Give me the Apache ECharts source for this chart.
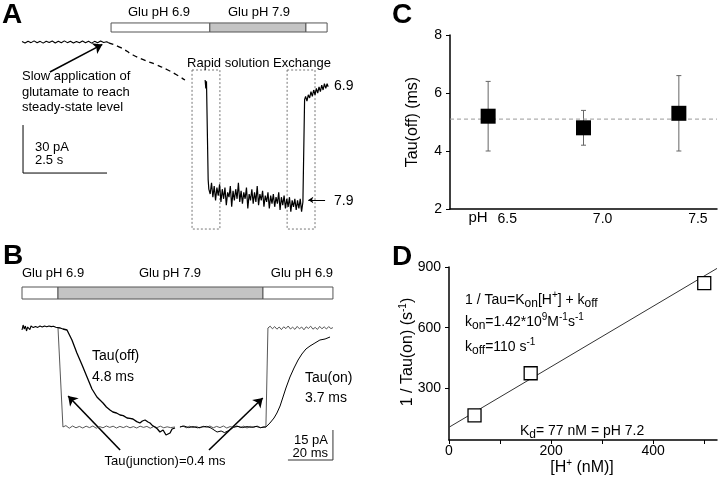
<!DOCTYPE html>
<html><head><meta charset="utf-8">
<script src="https://cdn.jsdelivr.net/npm/echarts@6/dist/echarts.min.js"></script>
<style>html,body{margin:0;padding:0;background:#fff}#c{width:720px;height:485px}</style>
</head><body><div id="c"></div>
<script>
// ================= Panel A (x: s, y: pA) =================
const stimA = [[2.71, 5.65, 6.9], [5.65, 8.51, 7.9], [8.51, 9.14, 6.9]];
const exchangeWindowsA = [[5.12, 5.95], [7.95, 8.78]];
const traceA_slow = [[0.06,0.3],[0.15,-0.6],[0.24,0.5],[0.33,-0.4],[0.42,0.7],[0.51,-0.5],[0.6,0.4],[0.69,-0.7],[0.78,0.5],[0.87,-0.3],[0.96,0.6],[1.05,-0.6],[1.14,0.4],[1.23,-0.5],[1.32,0.7],[1.41,-0.4],[1.5,0.5],[1.59,-0.6],[1.68,0.3],[1.77,-0.5],[1.86,0.6],[1.95,-0.4],[2.04,0.5],[2.13,-0.7],[2.22,0.4],[2.31,-0.5],[2.4,0.6],[2.49,-0.3],[2.58,0.2],[2.64,-0.5]];
const traceA_slowRise = [[2.64,-0.5],[3.0,-3.5],[3.36,-8.1],[3.72,-11.5],[4.08,-14.4],[4.4,-17.5],[4.67,-20.6],[4.91,-23.75]];
const traceA_rapid = [[5.51,-23.75],[5.53,-29],[5.55,-24.5],[5.58,-24],[5.6,-86],[5.62,-92],[5.66,-95],[5.70,-88],[5.74,-97],[5.78,-90],[5.82,-99],[5.86,-91],[5.90,-96],[5.94,-89],[5.98,-100],[6.02,-92],[6.06,-98],[6.10,-91],[6.14,-102],[6.18,-94],[6.22,-97],[6.26,-90],[6.30,-103],[6.34,-93],[6.38,-99],[6.42,-92],[6.46,-98],[6.50,-88],[6.54,-100],[6.58,-93],[6.62,-101],[6.66,-94],[6.70,-98],[6.74,-91],[6.78,-104],[6.82,-95],[6.86,-99],[6.90,-92],[6.94,-101],[6.98,-94],[7.02,-100],[7.06,-90],[7.10,-102],[7.14,-95],[7.18,-99],[7.22,-93],[7.26,-103],[7.30,-96],[7.34,-100],[7.38,-94],[7.42,-104],[7.46,-96],[7.50,-101],[7.54,-95],[7.58,-103],[7.62,-97],[7.66,-101],[7.70,-94],[7.74,-105],[7.78,-97],[7.82,-102],[7.86,-96],[7.90,-104],[7.94,-98],[7.98,-103],[8.02,-97],[8.06,-106],[8.10,-99],[8.14,-103],[8.18,-98],[8.22,-105],[8.26,-99],[8.30,-104],[8.34,-98],[8.38,-106],[8.42,-100],[8.45,-101],[8.47,-36],[8.50,-34],[8.54,-37],[8.58,-33],[8.62,-35],[8.66,-31],[8.70,-34],[8.74,-30],[8.78,-33],[8.82,-29],[8.86,-32],[8.90,-28],[8.94,-31],[8.98,-27],[9.02,-30],[9.06,-26],[9.10,-29],[9.14,-26],[9.17,-28]];
const scaleBarA = [[0.09,-51.9],[0.09,-81.9],[2.59,-81.9]];
const arrowA = [[0.89,-18.75],[2.45,-1.5]];
const arrowA79 = [[9.08,-98.75],[8.58,-98.75]];

// ================= Panel B (x: ms, y: pA) =================
const stimB = [[0, 16, 6.9], [16, 107.1, 7.9], [107.1, 138.2, 6.9]];
const traceB_base = [[0,-1],[0.5,1.5],[1,-0.5],[1.5,1],[2,-1.5],[2.5,0.5],[3,1.2],[3.5,-0.8],[4,1],[5,0.2],[6,0.8],[7,0.3],[8,1],[9,0.5],[10,1],[11,0.6],[12,1],[13,0.7],[14,0.9],[15,0.4],[16,0.2]];
const traceB_junctionL = [[16,0],[18.2,-49.5],[19.5,-48.8],[21,-50.1],[22.5,-49],[24,-49.9],[25.5,-49.2],[27,-50],[28.5,-49.1],[30,-49.8],[31.5,-49],[33,-50.1],[34.5,-49.3],[36,-49.9],[37.5,-49],[39,-49.7],[40.5,-49.1],[42,-50],[43.5,-49.2],[45,-49.8],[46.5,-49.1],[48,-49.9],[49.5,-49.3],[51,-50],[52.5,-49.1],[54,-49.7],[55.5,-49.2],[57,-50.1],[58.5,-49.3],[60,-49.8],[61.5,-49.1],[63,-49.9],[64.5,-49.4],[66,-49.8],[68,-49.5]];
const traceB_junctionR = [[70.2,-49.5],[71.5,-49],[73,-49.9],[74.5,-49.1],[76,-49.8],[77.5,-49.2],[79,-50],[80.5,-49.1],[82,-49.7],[83.5,-49],[85,-49.9],[86.5,-49.2],[88,-49.8],[89.5,-49],[91,-50],[92.5,-49.3],[94,-49.7],[95.5,-48.9],[97,-49.8],[98.5,-49.1],[100,-50],[101.5,-49.2],[103,-49.7],[104.5,-49],[106,-49.9],[107.5,-49.3],[108.4,-49.5],[109.3,0],[110.3,0.9],[111.3,-0.4],[112.3,0.7],[113.3,-0.6],[114.3,0.5],[115.3,-0.8],[116.3,0.6],[117.3,-0.3],[118.3,1],[119.3,-0.5],[120.3,0.4],[121.3,-0.7],[122.3,0.8],[123.3,-0.4],[124.3,0.5],[125.3,-0.9],[126.3,0.6],[127.3,-0.2],[128.3,0.9],[129.3,-0.6],[130.3,0.3],[131.3,-0.7],[132.3,0.8],[133.3,-0.4],[134.3,0.6],[135.3,-0.5],[136.3,0.7],[137.3,-0.3],[138.2,0.2]];
const traceB_off = [[16,0.2],[17,0],[18.2,-0.5],[20,-1],[22.2,-6],[24.4,-12.5],[26.7,-18.5],[28.9,-24.5],[31.1,-30.5],[33.3,-34.5],[36,-37.5],[37.5,-39.5],[39.1,-41],[40.4,-42],[42,-42.5],[43.6,-43.5],[45,-43.8],[46.7,-45],[48,-45.2],[49.3,-45.5],[51,-46.8],[52.4,-47.5],[53.5,-46.5],[54.7,-46],[56,-47],[56.9,-47.5],[58,-48.8],[59.1,-49.5],[60.2,-50.5],[61.3,-52],[62.7,-51],[64,-53.5],[65.8,-52.5],[66.7,-50.5],[68,-50]];
const traceB_on = [[70.2,-49.5],[72,-49],[74,-49.8],[76,-49.3],[78,-49.9],[80,-49.5],[82,-49.2],[84,-50],[86.7,-52],[88.5,-51.5],[90,-52.3],[92.4,-51],[94,-49.6],[96,-49.2],[98,-49.8],[100,-49.3],[102,-49.7],[104,-49.2],[106,-49.8],[108.4,-49.5],[110.2,-47.5],[112,-45],[113.3,-42.5],[114.7,-39],[116,-34.5],[117.3,-30],[119.1,-24.5],[120.9,-20],[122.7,-16],[124.4,-13],[126.2,-10.5],[128,-9],[130.2,-7.5],[132.4,-6],[134.7,-5.5],[136.9,-4.5]];
const scaleBarB = [[138.2,-51],[138.2,-66],[118.2,-66]];
const arrowsB = [[[43.6,-61],[20.5,-34]], [[83.1,-61],[107,-35]]];

// ================= Panel C =================
const phValues = [6.4, 6.9, 7.4];
const tauOff = [5.2, 4.8, 5.3];
const tauOffLow = [4.0, 4.2, 4.0];
const tauOffHigh = [6.4, 5.4, 6.6];
const tauOffMean = 5.1;
const phTicks = [6.5, 7.0, 7.5];

// ================= Panel D =================
const hConc = [50, 160, 500];
const invTauOn = [167, 375, 820];
const fitLine = [[0, 108], [525, 893]];
const hTicks = [0, 200, 400];
const hMinorTicks = [0, 100, 200, 300, 400, 500];
const rateTicks = [300, 600, 900];

const F = '"Liberation Sans", Arial, Helvetica, sans-serif';
const INK = '#000';

function txt(text, x, y, o) {
  o = o || {};
  return {
    type: 'text', x: x, y: y, rotation: o.rot || 0, silent: true, z: 100,
    style: {
      text: text, x: 0, y: 0, fill: INK,
      fontSize: o.size || 13, fontFamily: F, fontWeight: o.bold ? 'bold' : 'normal',
      align: o.align || 'left', textAlign: o.align || 'left',
      verticalAlign: 'middle', textVerticalAlign: 'middle',
      lineHeight: o.lh || undefined, rich: o.rich || undefined
    }
  };
}
const richEq = {
  sub: { fontSize: 12, fontFamily: F, fill: INK, verticalAlign: 'bottom', lineHeight: 12 },
  sup: { fontSize: 10, fontFamily: F, fill: INK, verticalAlign: 'top', lineHeight: 10 }
};

function stimRender(top, bot) {
  return function (params, api) {
    const p0 = api.coord([api.value(0), top]);
    const p1 = api.coord([api.value(1), bot]);
    return { type: 'rect', shape: { x: p0[0], y: p0[1], width: p1[0] - p0[0], height: p1[1] - p0[1] },
      style: { fill: api.value(2) > 7.5 ? '#c4c4c4' : '#ffffff', stroke: '#555', lineWidth: 1 } };
  };
}

const chart = echarts.init(document.getElementById('c'), null, { renderer: 'canvas' });

const axisCommon = {
  axisLine: { lineStyle: { color: INK, width: 1.5 } },
  splitLine: { show: false },
  axisLabel: { color: INK, fontSize: 14, fontFamily: F }
};

chart.setOption({
  backgroundColor: '#fff',
  animation: false,
  grid: [
    { left: 20, top: 10, width: 336, height: 224, outerBoundsMode: 'none' },
    { left: 22, top: 270, width: 315, height: 198, outerBoundsMode: 'none' },
    { left: 450, top: 35, width: 267, height: 174, outerBoundsMode: 'none' },
    { left: 449, top: 267, width: 268, height: 173, outerBoundsMode: 'none' }
  ],
  xAxis: [
    { gridIndex: 0, type: 'value', min: 0, max: 10, show: false },
    { gridIndex: 1, type: 'value', min: 0, max: 140, show: false },
    Object.assign({}, axisCommon, { gridIndex: 2, type: 'value', min: 6.2, max: 7.6,
      axisTick: { show: false },
      axisLabel: Object.assign({}, axisCommon.axisLabel, { customValues: phTicks, margin: 3, formatter: v => v.toFixed(1) }) }),
    Object.assign({}, axisCommon, { gridIndex: 3, type: 'value', min: 0, max: 525,
      axisTick: { customValues: hMinorTicks, length: 4, lineStyle: { color: INK } },
      axisLabel: Object.assign({}, axisCommon.axisLabel, { customValues: hTicks, margin: 4 }) })
  ],
  yAxis: [
    { gridIndex: 0, type: 'value', min: -120, max: 20, show: false },
    { gridIndex: 1, type: 'value', min: -70, max: 29, show: false },
    Object.assign({}, axisCommon, { gridIndex: 2, type: 'value', min: 2, max: 8, interval: 2,
      axisTick: { length: 4, lineStyle: { color: INK } },
      axisLabel: Object.assign({}, axisCommon.axisLabel, { margin: 8 }) }),
    Object.assign({}, axisCommon, { gridIndex: 3, type: 'value', min: 45, max: 900,
      axisTick: { customValues: rateTicks, length: 4, lineStyle: { color: INK } },
      axisLabel: Object.assign({}, axisCommon.axisLabel, { customValues: rateTicks, margin: 8 }) })
  ],
  series: [
    // ---- Panel A ----
    { type: 'custom', xAxisIndex: 0, yAxisIndex: 0, renderItem: stimRender(11.9, 6.25), data: stimA, silent: true },
    { type: 'custom', xAxisIndex: 0, yAxisIndex: 0, silent: true, data: exchangeWindowsA,
      renderItem: function (params, api) {
        const p0 = api.coord([api.value(0), -17.5]);
        const p1 = api.coord([api.value(1), -116.9]);
        return { type: 'rect', shape: { x: p0[0], y: p0[1], width: p1[0] - p0[0], height: p1[1] - p0[1] },
          style: { fill: 'none', stroke: '#777', lineWidth: 1, lineDash: [2, 2] } };
      } },
    { type: 'line', xAxisIndex: 0, yAxisIndex: 0, data: traceA_slow, showSymbol: false, lineStyle: { color: INK, width: 1.1 } },
    { type: 'line', xAxisIndex: 0, yAxisIndex: 0, data: traceA_slowRise, smooth: true, showSymbol: false, lineStyle: { color: INK, width: 1.3, type: [5, 4] } },
    { type: 'line', xAxisIndex: 0, yAxisIndex: 0, data: traceA_rapid, showSymbol: false, lineStyle: { color: INK, width: 1.2 } },
    { type: 'line', xAxisIndex: 0, yAxisIndex: 0, data: scaleBarA, showSymbol: false, lineStyle: { color: INK, width: 1 } },
    { type: 'lines', coordinateSystem: 'cartesian2d', xAxisIndex: 0, yAxisIndex: 0, silent: true,
      symbol: ['none', 'arrow'], symbolSize: 9, lineStyle: { color: INK, width: 1.6, opacity: 1 },
      data: [{ coords: arrowA }] },
    { type: 'lines', coordinateSystem: 'cartesian2d', xAxisIndex: 0, yAxisIndex: 0, silent: true,
      symbol: ['none', 'arrow'], symbolSize: 5, lineStyle: { color: INK, width: 1, opacity: 1 },
      data: [{ coords: arrowA79 }] },
    // ---- Panel B ----
    { type: 'custom', xAxisIndex: 1, yAxisIndex: 1, renderItem: stimRender(20.5, 14.5), data: stimB, silent: true },
    { type: 'line', xAxisIndex: 1, yAxisIndex: 1, data: traceB_base, showSymbol: false, lineStyle: { color: INK, width: 1.1 } },
    { type: 'line', xAxisIndex: 1, yAxisIndex: 1, data: traceB_junctionL, showSymbol: false, lineStyle: { color: '#444', width: 0.9 } },
    { type: 'line', xAxisIndex: 1, yAxisIndex: 1, data: traceB_junctionR, showSymbol: false, lineStyle: { color: '#444', width: 0.9 } },
    { type: 'line', xAxisIndex: 1, yAxisIndex: 1, data: traceB_off, showSymbol: false, lineStyle: { color: INK, width: 1.3 } },
    { type: 'line', xAxisIndex: 1, yAxisIndex: 1, data: traceB_on, showSymbol: false, lineStyle: { color: INK, width: 1 } },
    { type: 'line', xAxisIndex: 1, yAxisIndex: 1, data: scaleBarB, showSymbol: false, lineStyle: { color: '#333', width: 1 } },
    { type: 'lines', coordinateSystem: 'cartesian2d', xAxisIndex: 1, yAxisIndex: 1, silent: true,
      symbol: ['none', 'arrow'], symbolSize: 9, lineStyle: { color: INK, width: 1.6, opacity: 1 },
      data: arrowsB.map(c => ({ coords: c })) },
    // ---- Panel C ----
    { type: 'line', xAxisIndex: 2, yAxisIndex: 2, data: [[6.2, tauOffMean], [7.6, tauOffMean]], showSymbol: false,
      lineStyle: { color: '#999', width: 1, type: [4, 3] } },
    { type: 'custom', xAxisIndex: 2, yAxisIndex: 2, silent: true,
      data: phValues.map((p, i) => [p, tauOffLow[i], tauOffHigh[i]]),
      renderItem: function (params, api) {
        const lo = api.coord([api.value(0), api.value(1)]);
        const hi = api.coord([api.value(0), api.value(2)]);
        const c = 2.5, st = { stroke: '#666', lineWidth: 1 };
        return { type: 'group', children: [
          { type: 'line', shape: { x1: lo[0], y1: lo[1], x2: hi[0], y2: hi[1] }, style: st },
          { type: 'line', shape: { x1: lo[0] - c, y1: lo[1], x2: lo[0] + c, y2: lo[1] }, style: st },
          { type: 'line', shape: { x1: hi[0] - c, y1: hi[1], x2: hi[0] + c, y2: hi[1] }, style: st }
        ] };
      } },
    { type: 'scatter', xAxisIndex: 2, yAxisIndex: 2, symbol: 'rect', symbolSize: 15, z: 5,
      itemStyle: { color: INK, opacity: 1 }, data: phValues.map((p, i) => [p, tauOff[i]]) },
    // ---- Panel D ----
    { type: 'line', xAxisIndex: 3, yAxisIndex: 3, data: fitLine, showSymbol: false, lineStyle: { color: '#333', width: 1 } },
    { type: 'scatter', xAxisIndex: 3, yAxisIndex: 3, symbol: 'rect', symbolSize: 13, z: 5,
      itemStyle: { color: '#fff', borderColor: INK, borderWidth: 1.3, opacity: 1 },
      data: hConc.map((h, i) => [h, invTauOn[i]]) }
  ],
  graphic: [
    // Panel A
    txt('A', 2, 15, { size: 28, bold: true }),
    txt('Glu pH 6.9', 159, 12, { align: 'center' }),
    txt('Glu pH 7.9', 259, 12, { align: 'center' }),
    txt('Rapid solution Exchange', 259, 63, { align: 'center' }),
    txt('Slow application of\nglutamate to reach\nsteady-state level', 22, 92, { lh: 15.5 }),
    txt('30 pA', 35, 147),
    txt('2.5 s', 35, 160),
    txt('6.9', 334, 86, { size: 14 }),
    txt('7.9', 334, 201, { size: 14 }),
    // Panel B
    txt('B', 3, 256, { size: 28, bold: true }),
    txt('Glu pH 6.9', 22, 273),
    txt('Glu pH 7.9', 170, 273, { align: 'center' }),
    txt('Glu pH 6.9', 333, 273, { align: 'right' }),
    txt('Tau(off)', 92, 356, { size: 14 }),
    txt('4.8 ms', 92, 377, { size: 14 }),
    txt('Tau(on)', 305, 378, { size: 14 }),
    txt('3.7 ms', 305, 398, { size: 14 }),
    txt('Tau(junction)=0.4 ms', 165, 461, { align: 'center' }),
    txt('15 pA', 328, 440, { align: 'right' }),
    txt('20 ms', 328, 453, { align: 'right' }),
    // Panel C
    txt('C', 392, 15, { size: 28, bold: true }),
    txt('Tau(off) (ms)', 413, 122, { size: 16, align: 'center', rot: Math.PI / 2 }),
    txt('pH', 478, 218, { size: 15, align: 'center' }),
    // Panel D
    txt('D', 392, 257, { size: 28, bold: true }),
    txt('1 / Tau(on) (s{sup|-1})', 408, 352, { size: 16, align: 'center', rot: Math.PI / 2, lh: 20, rich: richEq }),
    txt('1 / Tau=K{sub|on}[H{sup|+}] + k{sub|off}', 465, 300, { size: 14, lh: 20, rich: richEq }),
    txt('k{sub|on}=1.42*10{sup|9}M{sup|-1}s{sup|-1}', 465, 322, { size: 14, lh: 20, rich: richEq }),
    txt('k{sub|off}=110 s{sup|-1}', 465, 347, { size: 14, lh: 20, rich: richEq }),
    txt('K{sub|d}= 77 nM = pH 7.2', 520, 431, { size: 14, lh: 20, rich: richEq }),
    txt('[H{sup|+} (nM)]', 582, 468, { size: 16, align: 'center', lh: 20, rich: richEq })
  ]
});
</script></body></html>
